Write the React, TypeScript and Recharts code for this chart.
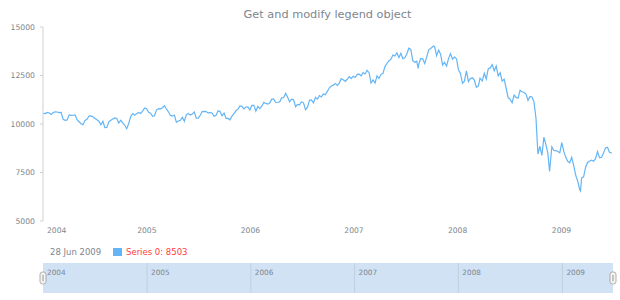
import React from 'react';
import {
  LineChart,
  Line,
  XAxis,
  YAxis,
  ComposedChart,
  ReferenceArea,
  ReferenceLine,
  ReferenceDot,
} from 'recharts';

// ---- Data (weekly closes) ----
const dates2004 = ['2004-01-02','2004-01-09','2004-01-16','2004-01-23','2004-01-30','2004-02-06','2004-02-13','2004-02-20','2004-02-27','2004-03-05','2004-03-12','2004-03-19','2004-03-26','2004-04-02','2004-04-09','2004-04-16','2004-04-23','2004-04-30','2004-05-07','2004-05-14','2004-05-21','2004-05-28','2004-06-04','2004-06-11','2004-06-18','2004-06-25','2004-07-02','2004-07-09','2004-07-16','2004-07-23','2004-07-30','2004-08-06','2004-08-13','2004-08-20','2004-08-27','2004-09-03','2004-09-10','2004-09-17','2004-09-24','2004-10-01','2004-10-08','2004-10-15','2004-10-22','2004-10-29','2004-11-05','2004-11-12','2004-11-19','2004-11-26','2004-12-03','2004-12-10','2004-12-17','2004-12-24','2004-12-31'];
const values2004 = [10550,10540,10600,10568,10488,10593,10628,10620,10584,10596,10240,10186,10212,10470,10442,10452,10472,10226,10117,10013,9967,10188,10242,10410,10416,10371,10283,10214,10140,9962,10140,9815,9825,10110,10195,10260,10314,10285,10047,10192,10055,9933,9757,10027,10387,10539,10456,10522,10592,10543,10661,10828,10783];

const dates2005 = ['2005-01-07','2005-01-14','2005-01-21','2005-01-28','2005-02-04','2005-02-11','2005-02-18','2005-02-25','2005-03-04','2005-03-11','2005-03-18','2005-03-25','2005-04-01','2005-04-08','2005-04-15','2005-04-22','2005-04-29','2005-05-06','2005-05-13','2005-05-20','2005-05-27','2005-06-03','2005-06-10','2005-06-17','2005-06-24','2005-07-01','2005-07-08','2005-07-15','2005-07-22','2005-07-29','2005-08-05','2005-08-12','2005-08-19','2005-08-26','2005-09-02','2005-09-09','2005-09-16','2005-09-23','2005-09-30','2005-10-07','2005-10-14','2005-10-21','2005-10-28','2005-11-04','2005-11-11','2005-11-18','2005-11-25','2005-12-02','2005-12-09','2005-12-16','2005-12-23','2005-12-30'];
const values2005 = [10603,10558,10393,10427,10716,10796,10785,10841,10940,10774,10629,10442,10404,10461,10087,10157,10193,10345,10140,10471,10542,10460,10512,10623,10297,10303,10449,10640,10651,10641,10558,10600,10559,10397,10447,10679,10641,10420,10569,10292,10287,10215,10402,10531,10686,10766,10931,10912,10778,10876,10884,10718];

const dates2006 = ['2006-01-06','2006-01-13','2006-01-20','2006-01-27','2006-02-03','2006-02-10','2006-02-17','2006-02-24','2006-03-03','2006-03-10','2006-03-17','2006-03-24','2006-03-31','2006-04-07','2006-04-14','2006-04-21','2006-04-28','2006-05-05','2006-05-12','2006-05-19','2006-05-26','2006-06-02','2006-06-09','2006-06-16','2006-06-23','2006-06-30','2006-07-07','2006-07-14','2006-07-21','2006-07-28','2006-08-04','2006-08-11','2006-08-18','2006-08-25','2006-09-01','2006-09-08','2006-09-15','2006-09-22','2006-09-29','2006-10-06','2006-10-13','2006-10-20','2006-10-27','2006-11-03','2006-11-10','2006-11-17','2006-11-24','2006-12-01','2006-12-08','2006-12-15','2006-12-22','2006-12-29'];
const values2006 = [10959,10960,10668,10907,10793,10919,11116,11061,11022,11076,11280,11280,11109,11120,11138,11347,11367,11578,11380,11144,11278,11247,10891,11015,10989,11150,11091,10739,10868,11219,11240,11088,11381,11284,11464,11392,11560,11508,11679,11866,11960,12002,12090,11986,12108,12342,12280,12194,12307,12445,12343,12463];

const dates2007 = ['2007-01-05','2007-01-12','2007-01-19','2007-01-26','2007-02-02','2007-02-09','2007-02-16','2007-02-23','2007-03-02','2007-03-09','2007-03-16','2007-03-23','2007-03-30','2007-04-06','2007-04-13','2007-04-20','2007-04-27','2007-05-04','2007-05-11','2007-05-18','2007-05-25','2007-06-01','2007-06-08','2007-06-15','2007-06-22','2007-06-29','2007-07-06','2007-07-13','2007-07-20','2007-07-27','2007-08-03','2007-08-10','2007-08-15','2007-08-17','2007-08-24','2007-08-31','2007-09-07','2007-09-14','2007-09-21','2007-09-28','2007-10-05','2007-10-09','2007-10-12','2007-10-19','2007-10-26','2007-11-02','2007-11-09','2007-11-16','2007-11-23','2007-11-30','2007-12-07','2007-12-14','2007-12-21','2007-12-28'];
const values2007 = [12398,12556,12565,12487,12653,12581,12768,12647,12114,12277,12111,12481,12354,12560,12612,12961,13120,13264,13327,13556,13507,13668,13424,13639,13361,13409,13612,13908,13851,13266,13182,13240,12861,13079,13379,13358,13114,13443,13821,13896,13980,14020,13990,13523,13807,13596,13043,13177,12981,13372,13626,13339,13451,13366];

const dates2008 = ['2008-01-04','2008-01-11','2008-01-18','2008-01-25','2008-02-01','2008-02-08','2008-02-15','2008-02-22','2008-02-29','2008-03-07','2008-03-14','2008-03-20','2008-03-28','2008-04-04','2008-04-11','2008-04-18','2008-04-25','2008-05-02','2008-05-09','2008-05-16','2008-05-23','2008-05-30','2008-06-06','2008-06-13','2008-06-20','2008-06-27','2008-07-03','2008-07-11','2008-07-18','2008-07-25','2008-08-01','2008-08-08','2008-08-15','2008-08-22','2008-08-29','2008-09-05','2008-09-12','2008-09-19','2008-09-26','2008-10-03','2008-10-10','2008-10-17','2008-10-24','2008-10-31','2008-11-07','2008-11-14','2008-11-20','2008-11-28','2008-12-05','2008-12-12','2008-12-19','2008-12-26'];
const values2008 = [12800,12606,12099,12207,12743,12183,12348,12381,12266,11894,11951,12361,12216,12609,12325,12849,12891,13058,12745,12986,12479,12638,12209,12307,11843,11347,11288,11100,11496,11370,11326,11734,11659,11628,11543,11220,11421,11388,11143,10325,8451,8852,8378,9325,8943,8497,7552,8829,8635,8629,8579,8515];

const dates2009 = ['2009-01-02','2009-01-09','2009-01-16','2009-01-23','2009-01-30','2009-02-06','2009-02-13','2009-02-20','2009-02-27','2009-03-06','2009-03-09','2009-03-13','2009-03-20','2009-03-27','2009-04-03','2009-04-09','2009-04-17','2009-04-24','2009-05-01','2009-05-08','2009-05-15','2009-05-22','2009-05-29','2009-06-05','2009-06-12','2009-06-19','2009-06-28'];
const values2009 = [9034,8599,8281,8077,8000,8280,7850,7366,7062,6627,6547,7224,7278,7776,8017,8083,8131,8076,8212,8575,8268,8277,8500,8763,8799,8539,8503];

const yTicks = [5000, 7500, 10000, 12500, 15000];
const yearLabels = ['2004', '2005', '2006', '2007', '2008', '2009'];
const titleText = 'Get and modify legend object';
const legendDate = '28 Jun 2009';
const seriesName = 'Series 0';
const lastValue = 8503;

const dates = [...dates2004, ...dates2005, ...dates2006, ...dates2007, ...dates2008, ...dates2009];
const values = [...values2004, ...values2005, ...values2006, ...values2007, ...values2008, ...values2009];

const data = dates.map((d, i) => ({ t: Date.parse(d + 'T00:00:00Z'), v: values[i] }));
const yearTicks = yearLabels.map((y) => Date.UTC(Number(y), 0, 1));
const domainStart = yearTicks[0];
const domainEnd = data[data.length - 1].t;

const FONT = '"DejaVu Sans", Verdana, sans-serif';
const LABEL = '#7c868e';
const LINE = '#64b5f6';

const XTick = (props: any) => {
  const { x, y, payload, index } = props;
  const first = index === 0;
  return (
    <text
      x={first ? x + 4 : x}
      y={y}
      dy="0.71em"
      textAnchor={first ? 'start' : 'middle'}
      fill={LABEL}
      fontSize={7.6}
      fontFamily={FONT}
    >
      {new Date(payload.value).getUTCFullYear()}
    </text>
  );
};

const Handle = (props: any) => {
  const { cx, cy } = props;
  return (
    <g>
      <rect x={cx - 3} y={cy - 6} width={6} height={12} rx={2.5} fill="#f4f4f4" stroke="#9a9a9a" strokeWidth={0.8} />
      <rect x={cx - 1} y={cy - 3.5} width={2} height={7} rx={1} fill="#c4c4c4" />
    </g>
  );
};

export default function App() {
  return (
    <div style={{ position: 'absolute', left: 0, top: 0, width: 620, height: 300, background: '#fff', fontFamily: FONT }}>
      <div
        style={{
          position: 'absolute',
          left: 43,
          top: 8,
          width: 569,
          textAlign: 'center',
          fontSize: 11.3,
          lineHeight: '14px',
          color: LABEL,
        }}
      >
        {titleText}
      </div>

      <div style={{ position: 'absolute', left: 0, top: 0 }}>
        <LineChart width={620} height={300} data={data} margin={{ top: 27, right: 8, bottom: 59, left: 0 }}>
          <XAxis
            dataKey="t"
            type="number"
            scale="time"
            domain={[domainStart, domainEnd]}
            ticks={yearTicks}
            tick={<XTick />}
            axisLine={false}
            tickLine={false}
            tickSize={0}
            tickMargin={7}
            height={20}
            interval={0}
            allowDataOverflow
          />
          <YAxis
            domain={[5000, 15000]}
            ticks={yTicks}
            width={43}
            axisLine={{ stroke: '#d0d0d0' }}
            tickLine={{ stroke: '#d0d0d0' }}
            tickSize={3}
            tickMargin={5}
            tick={{ fill: LABEL, fontSize: 7.7, fontFamily: FONT }}
            interval={0}
          />
          <Line
            type="linear"
            dataKey="v"
            stroke={LINE}
            strokeWidth={1.2}
            dot={false}
            isAnimationActive={false}
          />
        </LineChart>
      </div>

      {/* legend */}
      <div style={{ position: 'absolute', left: 50, top: 246, fontSize: 8.5, lineHeight: '12px', color: LABEL, whiteSpace: 'nowrap' }}>
        {legendDate}
      </div>
      <div style={{ position: 'absolute', left: 113, top: 247.5, width: 8.5, height: 8.5, background: LINE }} />
      <div style={{ position: 'absolute', left: 126, top: 246, fontSize: 8.5, lineHeight: '12px', color: '#ff3d3d', whiteSpace: 'nowrap' }}>
        {`${seriesName}: ${lastValue}`}
      </div>

      {/* scroller */}
      <div style={{ position: 'absolute', left: 0, top: 263 }}>
        <ComposedChart width={620} height={30} data={data} margin={{ top: 0, right: 7, bottom: 0, left: 43 }}>
          <XAxis dataKey="t" type="number" scale="time" domain={[domainStart, domainEnd]} hide allowDataOverflow />
          <YAxis domain={[0, 1]} hide allowDataOverflow />
          <ReferenceArea x1={domainStart} x2={domainEnd} y1={0} y2={1} fill="#d1e2f5" fillOpacity={1} stroke="none" ifOverflow="visible" />
          {yearTicks.map((t, i) => (
            <ReferenceLine
              key={t}
              x={t}
              stroke={i === 0 ? 'none' : '#bfcfe2'}
              strokeWidth={1}
              ifOverflow="visible"
              label={(p: any) => {
                const vb = p.viewBox || {};
                return (
                  <text x={(vb.x ?? 0) + 4} y={(vb.y ?? 0) + 12} fill={LABEL} fontSize={7.3} fontFamily={FONT}>
                    {yearLabels[i]}
                  </text>
                );
              }}
            />
          ))}
          <ReferenceDot x={domainStart} y={0.5} r={0} ifOverflow="visible" shape={<Handle />} />
          <ReferenceDot x={domainEnd} y={0.5} r={0} ifOverflow="visible" shape={<Handle />} />
        </ComposedChart>
      </div>
    </div>
  );
}
